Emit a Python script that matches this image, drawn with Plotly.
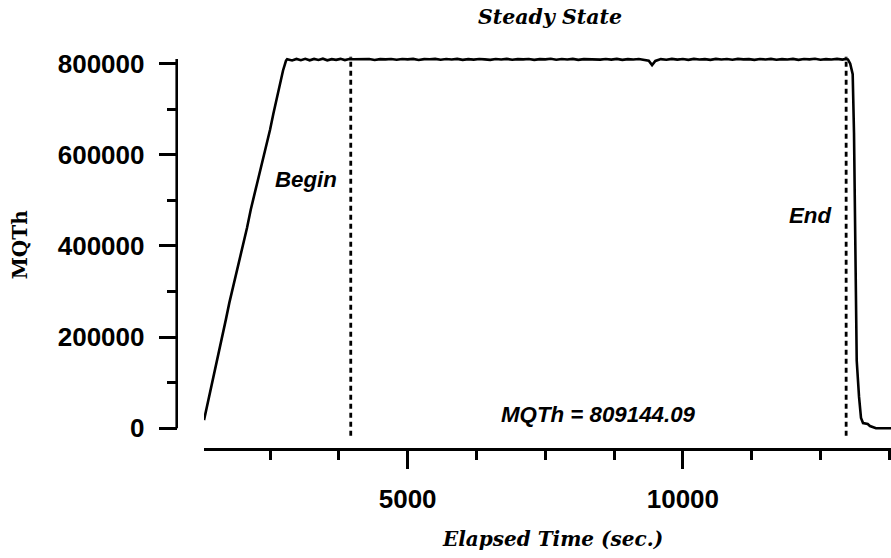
import plotly.graph_objects as go

# ---------------- data ----------------
time_s = [
    1300, 1360, 1420, 1465, 1520, 1574, 1640, 1700, 1760, 1830, 1900, 1960,
    2010, 2082, 2150, 2228, 2290, 2355, 2420, 2500, 2560, 2620, 2682, 2736, 2790,
    2810, 2900, 2980, 3060, 3140, 3220, 3300, 3380, 3460, 3540, 3620, 3700,
    3780, 3860, 3940, 4020, 4100, 4200, 4300, 4400, 4500, 4600, 4700, 4800,
    4900, 5000, 5100, 5200, 5300, 5400, 5500, 5600, 5700, 5800, 5900, 6000,
    6100, 6200, 6300, 6400, 6500, 6600, 6700, 6800, 6900, 7000, 7100, 7200,
    7300, 7400, 7500, 7600, 7700, 7800, 7900, 8000, 8100, 8200, 8300, 8400,
    8500, 8600, 8700, 8800, 8900, 9000, 9100, 9200, 9300, 9380, 9440, 9500,
    9600, 9700, 9800, 9900, 10000, 10100, 10200, 10300, 10400, 10500, 10600,
    10700, 10800, 10900, 11000, 11100, 11200, 11300, 11400, 11500, 11600,
    11700, 11800, 11900, 12000, 12100, 12200, 12300, 12400, 12500, 12600,
    12700, 12800, 12900, 12960, 13000,
    13040, 13085, 13109, 13136, 13158, 13200, 13236, 13273, 13358, 13399,
    13508, 13600, 13800,
]
mqth = [
    17800, 50000, 83000, 112000, 140000, 170000, 205000, 240000, 275000,
    310000, 345000, 380000, 405000, 440000, 480000, 518000, 550000, 585000,
    615000, 655000, 690000, 722000, 760000, 785000, 806500,
    809500, 807000, 810300, 807500, 810600, 807300, 810400, 808000, 810800,
    807400, 809800, 808300, 810500, 807800, 810200, 809600, 810000, 809700,
    810200, 808000, 809900, 809400, 810100, 808600, 810300, 809300, 810400,
    808200, 810000, 809600, 810500, 808700, 810100, 809000, 810400, 808300,
    810000, 808900, 810300, 809400, 808400, 810200, 809000, 810500, 808500,
    810000, 809300, 810300, 808400, 809900, 809300, 810600, 808600, 810100,
    809100, 810400, 808300, 809900, 809400, 810500, 808800, 810200, 808900,
    810400, 808400, 810000, 809000, 810300, 807800, 806500, 797000, 806000,
    810000, 808700, 810500, 808900, 810100, 808300, 810400, 809200, 809900,
    808400, 810500, 809000, 810200, 808500, 810400, 809300, 810000, 808300,
    810300, 809100, 810500, 808700, 810000, 809000, 810400, 808400, 810100,
    809300, 810600, 808700, 810000, 809100, 810400, 808800, 810300, 809000,
    800000, 776900, 647900, 390700, 148500, 69200, 22700, 11400, 9200, 4900,
    0, 0, 0,
]
steady_begin = 3966
steady_end = 12966
mqth_mean = "809144.09"

x_range = [1300, 13781]
y_range = [-18000, 819000]
y_axis_top = 810000
dash_span = [-16500, 815000]

# ---------------- layout helpers (pixel geometry) ----------------
W, H = 891, 558
def fx(px):
    return px / W
def fy(py):
    return 1 - py / H

# y calibration: value 0 at pixel 432.3, 2143.2 units per pixel
def ypix(v):
    return 432.3 - v / 2143.2

tick_font = dict(family="Liberation Sans, Arial", size=26, color="black", weight="bold")
ann_font = dict(family="Liberation Sans, Arial", size=22.3, color="black",
                weight="bold", style="italic")

fig = go.Figure()
fig.add_trace(go.Scatter(
    x=time_s, y=mqth, mode="lines",
    line=dict(color="black", width=2.6),
    showlegend=False, hoverinfo="skip",
))

fig.update_layout(
    width=W, height=H,
    margin=dict(l=0, r=0, t=0, b=0),
    paper_bgcolor="white", plot_bgcolor="white",
    showlegend=False,
    title=dict(text="Steady State", x=fx(550), xanchor="center",
               y=fy(17), yanchor="middle",
               font=dict(family="DejaVu Serif", size=20.5, color="black",
                         weight="bold", style="italic")),
    xaxis=dict(
        domain=[fx(204), 1], range=x_range,
        anchor="free", position=fy(453.3),
        showline=True, linecolor="black", linewidth=2.6,
        ticks="outside", ticklen=18, tickwidth=2.6, tickcolor="black",
        tick0=0, dtick=5000, tickformat="d",
        minor=dict(ticks="outside", tick0=0, dtick=1250, ticklen=9,
                   tickwidth=2.6, tickcolor="black", showgrid=False),
        showgrid=False, zeroline=False,
        tickfont=tick_font, ticklabelstandoff=8,
    ),
    yaxis=dict(
        domain=[fy(ypix(y_range[0])), fy(ypix(y_range[1]))], range=y_range,
        anchor="free", position=fx(176.7),
        showline=False,
        ticks="outside", ticklen=18, tickwidth=2.6, tickcolor="black",
        tick0=0, dtick=200000, tickformat="d",
        minor=dict(ticks="outside", tick0=0, dtick=100000, ticklen=10,
                   tickwidth=2.6, tickcolor="black", showgrid=False),
        showgrid=False, zeroline=False,
        tickfont=tick_font, ticklabelstandoff=9,
    ),
)

# y axis line (drawn separately so the plot area can extend below 0)
fig.add_shape(type="line", xref="paper", yref="y",
              x0=fx(176.7), x1=fx(176.7), y0=0, y1=y_axis_top,
              line=dict(color="black", width=2.6))

# steady-state begin / end markers
for xv in (steady_begin, steady_end):
    fig.add_shape(type="line", xref="x", yref="y",
                  x0=xv, x1=xv, y0=dash_span[0], y1=dash_span[1],
                  line=dict(color="black", width=2.8, dash="5px,4px"))

fig.add_annotation(text="Begin", x=steady_begin, xref="x", xanchor="right",
                   xshift=-12, y=fy(178), yref="paper", yanchor="middle",
                   showarrow=False, font=ann_font)
fig.add_annotation(text="End", x=steady_end, xref="x", xanchor="right",
                   xshift=-13, y=fy(215), yref="paper", yanchor="middle",
                   showarrow=False, font=ann_font)
fig.add_annotation(text="MQTh = " + mqth_mean,
                   x=(steady_begin + steady_end) / 2, xref="x", xanchor="center",
                   y=fy(418.5), yref="paper", yanchor="middle",
                   showarrow=False, font=ann_font)

# axis titles
fig.add_annotation(text="Elapsed Time (sec.)", x=fx(552), xref="paper",
                   xanchor="center", y=fy(546), yref="paper", yanchor="middle",
                   showarrow=False,
                   font=dict(family="DejaVu Serif", size=20, color="black",
                             weight="bold", style="italic"))
fig.add_annotation(text="MQTh", x=fx(19.5), xref="paper", xanchor="center",
                   y=fy(244.5), yref="paper", yanchor="middle", textangle=-90,
                   showarrow=False,
                   font=dict(family="DejaVu Serif", size=20, color="black",
                             weight="bold"))

fig.write_html(
    "out.html",
    config={"displayModeBar": False},
    post_script="document.body.style.margin='0';document.body.style.padding='0';"
                "document.body.style.overflow='hidden';",
)
